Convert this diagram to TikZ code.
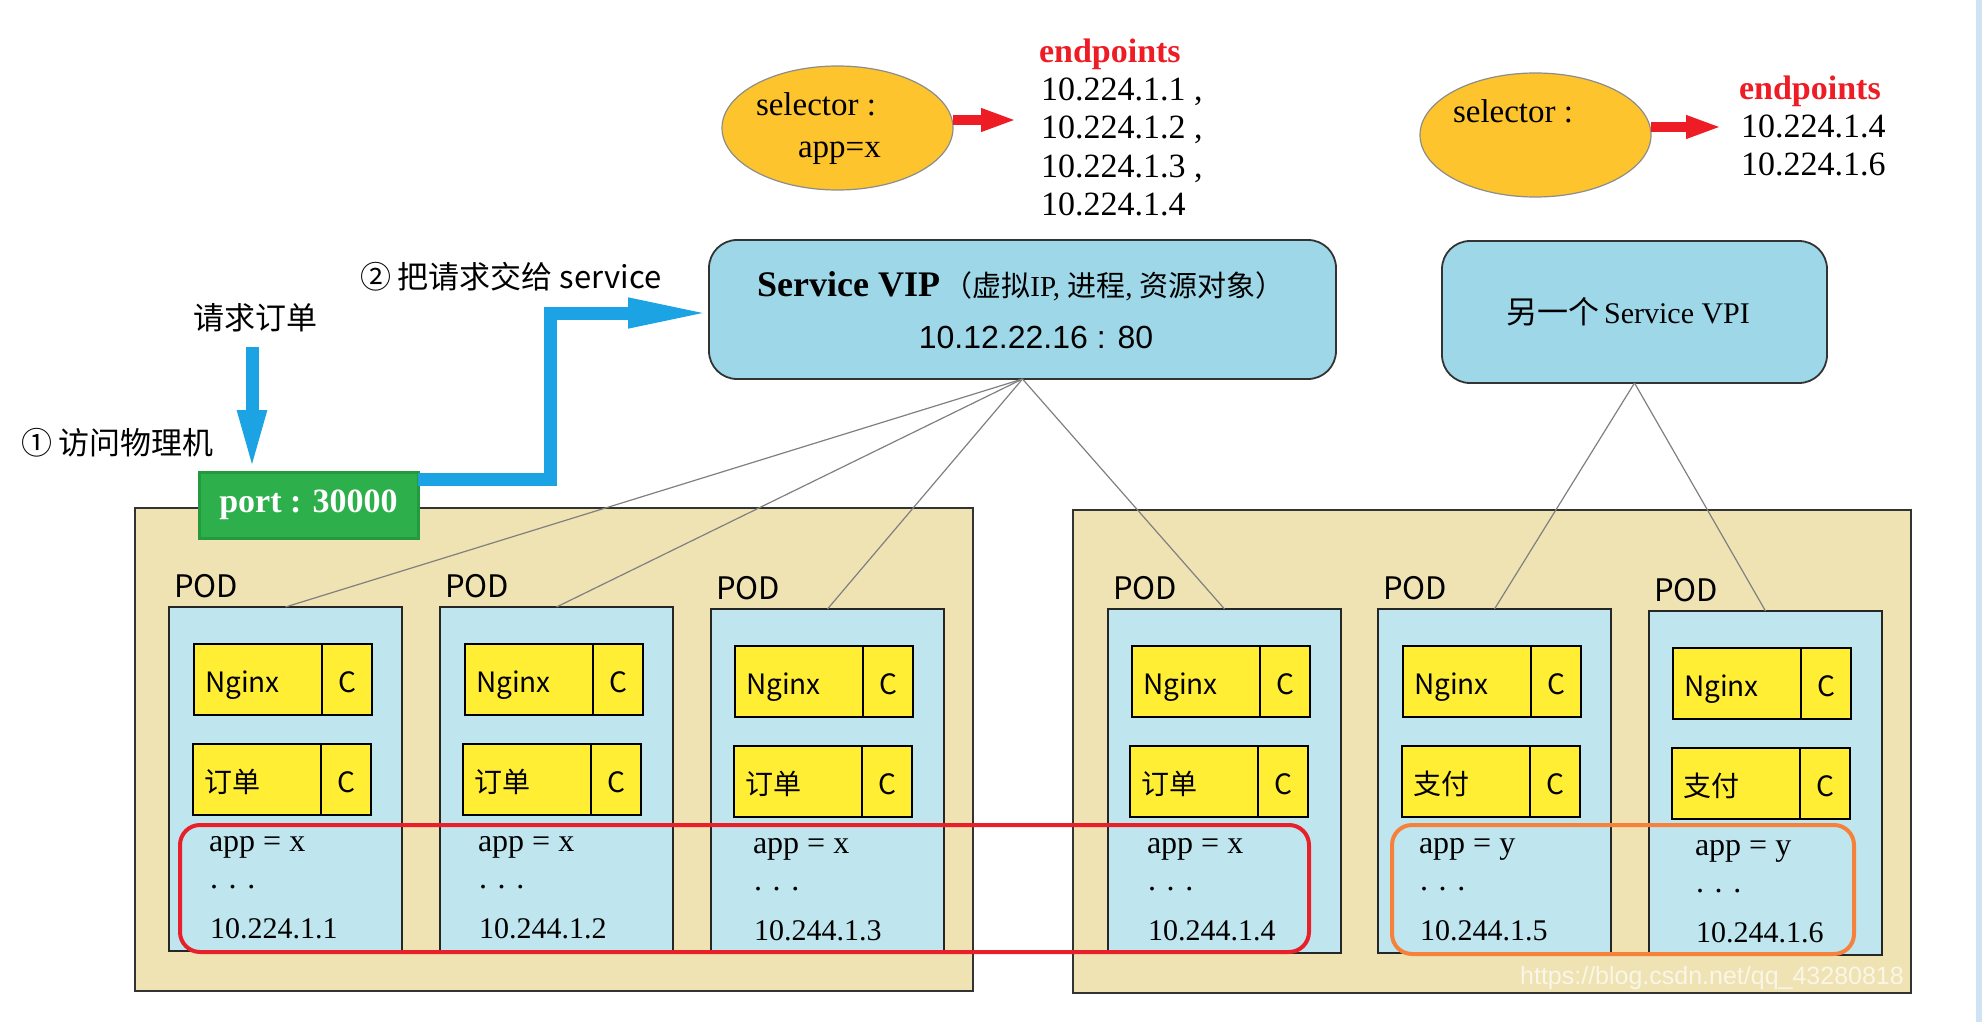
\documentclass[tikz,border=0pt]{standalone}
\usepackage{fontspec}
\setmainfont{Liberation Serif}
\newfontfamily\cjk{Noto Sans CJK SC}
\newfontfamily\arialf{Liberation Sans}
\usetikzlibrary{arrows.meta,shapes.geometric,calc}
\newcommand\myfs[1]{\fontsize{#1pt}{#1pt}\selectfont}
\definecolor{tanbg}{HTML}{EFE2B3}
\definecolor{podblue}{HTML}{BFE6EF}
\definecolor{cyellow}{HTML}{FFEE33}
\definecolor{svcblue}{HTML}{9ED8E8}
\definecolor{ellgold}{HTML}{FDC42E}
\definecolor{portgreen}{HTML}{2DB04C}
\definecolor{portdk}{HTML}{239A3E}
\definecolor{arrblue}{HTML}{1BA3E3}
\definecolor{arrred}{HTML}{EE1C25}
\definecolor{loopred}{HTML}{E8202A}
\definecolor{looporange}{HTML}{F5813A}
\definecolor{linegray}{HTML}{808080}
\definecolor{edgeblue}{HTML}{CFE3F5}
\begin{document}
\begin{tikzpicture}[x=0.5pt,y=-0.5pt,
  txt/.style={inner sep=0pt,outer sep=0pt},
  cjktxt/.style={txt,font=\cjk\myfs{15.5}},
  outerbox/.style={draw=black!80,fill=tanbg,line width=1pt,inner sep=0pt,outer sep=0pt,minimum width=419pt,minimum height=241.5pt},
  podbox/.style={draw=black!85,fill=podblue,line width=1pt,inner sep=0pt,outer sep=0pt,minimum width=116.5pt,minimum height=172pt},
  podlbl/.style={txt,font=\cjk\myfs{15.5}},
  podtxt/.style={txt,font=\myfs{16}},
  iptxt/.style={txt,font=\myfs{15}},
  cname/.style={draw=black,fill=cyellow,line width=0.9pt,minimum height=35.5pt,text width=53pt,text height=1.5em,text depth=0.2em,inner xsep=5.5pt,inner ysep=0pt,outer sep=0pt,align=left,font=\cjk\myfs{14}},
  cpart/.style={draw=black,fill=cyellow,line width=0.9pt,minimum height=35.5pt,minimum width=25pt,text height=1.45em,text depth=0.2em,inner sep=0pt,outer sep=0pt,font=\cjk\myfs{14}},
  svcbox/.style={draw=black!80,fill=svcblue,rounded corners=14pt,line width=0.9pt,inner sep=0pt,outer sep=0pt},
  ell/.style={ellipse,draw=black!45,fill=ellgold,line width=0.6pt,inner sep=0pt,outer sep=0pt,minimum width=115.5pt,minimum height=62pt},
  portbox/.style={draw=portdk,fill=portgreen,line width=1.5pt,minimum width=109.5pt,minimum height=33pt,inner sep=0pt,outer sep=0pt,text=white,font=\bfseries\myfs{17}},
  bluearr/.style={draw=arrblue,line width=6.5pt,line join=miter},
  redarr/.style={draw=arrred,line width=5pt,-{Triangle[length=18pt,width=10.5pt]}},
  thinline/.style={draw=linegray,line width=0.6pt},
  eptxt/.style={txt,font=\myfs{17}},
  ephead/.style={txt,font=\bfseries\myfs{17},text=arrred}
]
\useasboundingbox (0,0) rectangle (1982,1022);
\fill[white] (0,0) rectangle (1982,1022);
\fill[edgeblue] (1976,0) rectangle (1982,1022);

% outer machine boxes
\node[outerbox,anchor=north west] (m1) at (135,508) {};
\node[outerbox,anchor=north west] (m2) at (1073,510) {};

% pods
\foreach \i/\L/\T/\nxo/\sxo/\tx/\lab/\app/\ip in {
 1/169/607/25/24/40/订单/x/10.224.1.1,
 2/440/607/25/23/38/订单/x/10.244.1.2,
 3/711/609/24/23/42/订单/x/10.244.1.3,
 4/1108/609/24/22/39/订单/x/10.244.1.4,
 5/1378/609/25/24/41/支付/y/10.244.1.5,
 6/1649/611/24/23/46/支付/y/10.244.1.6}
{
 \node[podbox,anchor=north west] (pod\i) at (\L,\T) {};
 \node[podlbl,anchor=base west] (podl\i) at (\L+5,\T-10) {POD};
 \node[cname,anchor=north west] (ng\i) at (\L+\nxo,\T+37) {Nginx};
 \node[cpart,anchor=north west] (ngc\i) at (ng\i.north east) {C};
 \node[cname,anchor=north west] (sv\i) at (\L+\sxo,\T+137) {\lab};
 \node[cpart,anchor=north west] (sc\i) at (sv\i.north east) {C};
 \node[podtxt,anchor=base west] (app\i) at (\L+\tx,\T+244) {app = \app};
 \node[podtxt,anchor=base west] (dots\i) at (\L+\tx+1,\T+281) {. . .};
 \node[iptxt,anchor=base west] (ip\i) at (\L+\tx+1,\T+331) {\ip};
}

% label groups
\draw[loopred,line width=2pt,rounded corners=10pt] (180,825) rectangle (1309,952);
\draw[looporange,line width=2pt,rounded corners=10pt] (1392,825) rectangle (1854,954);

% services
\node[svcbox,minimum width=313.5pt,minimum height=69.5pt] (svc) at (1022.5,309.5) {};
\node[txt,anchor=base] (svct1) at (1021,296) {{\bfseries\myfs{18}Service VIP}\,{\myfs{14.5}\cjk （虚拟}{\myfs{14.5}IP, }{\myfs{14.5}\cjk 进程}{\myfs{14.5}, }{\myfs{14.5}\cjk 资源对象）}};
\node[txt,anchor=base,font=\arialf\myfs{16}] (svct2) at (1036,348) {10.12.22.16 : 80};

\node[svcbox,minimum width=192.5pt,minimum height=71pt] (svc2) at (1634.5,312) {};
\node[txt,anchor=base] (svc2t) at (1628,323) {{\cjk\myfs{15.5}另一个} {\myfs{15}Service VPI}};

% connectors service -> pods
\foreach \i in {1,2,3,4} \draw[thinline] (svc.south) -- (pod\i.north);
\foreach \i in {5,6} \draw[thinline] (svc2.south) -- (pod\i.north);

% selectors
\node[ell] (e1) at (837.5,128) {};
\node[txt,anchor=base west,font=\myfs{16.5}] (e1a) at (756,116) {selector :};
\node[txt,anchor=base west,font=\myfs{16.5}] (e1b) at (798,158) {app=x};
\node[ell] (e2) at (1535.5,135) {};
\node[txt,anchor=base west,font=\myfs{16.5}] (e2a) at (1453,123) {selector :};

\coordinate (a1) at (1017,120);
\draw[redarr] (e1.east |- a1) -- (a1);
\coordinate (a2) at (1722,127);
\draw[redarr] (e2.east |- a2) -- (a2);

\node[ephead,anchor=base west] (ep1h) at (1039,63) {endpoints};
\node[eptxt,anchor=base west] (ep11) at (1041,101) {10.224.1.1 ,};
\node[eptxt,anchor=base west] (ep12) at (1041,139) {10.224.1.2 ,};
\node[eptxt,anchor=base west] (ep13) at (1041,177) {10.224.1.3 ,};
\node[eptxt,anchor=base west] (ep14) at (1041,215) {10.224.1.4};

\node[ephead,anchor=base west] (ep2h) at (1739,100) {endpoints};
\node[eptxt,anchor=base west] (ep21) at (1741,138) {10.224.1.4};
\node[eptxt,anchor=base west] (ep22) at (1741,176) {10.224.1.6};

% port and request flow
\node[portbox] (port) at (308.5,505) {port : 30000};
\node[cjktxt] (q1) at (255,318) {请求订单};
\node[cjktxt,anchor=west] (q2) at (21,443) {① 访问物理机};
\node[cjktxt,anchor=west] (q3) at (360,277) {② 把请求交给 service};

\coordinate (b1) at (252,347);
\draw[bluearr,-{Triangle[length=31pt,width=13pt]}] (b1) -- (b1 |- port.north);
\coordinate (k1) at (550,479.5);
\coordinate (k2) at (550,313);
\draw[bluearr,-{Triangle[length=42pt,width=13.5pt]}] (port.east |- k1) -- (k1) -- (k2) -- ([xshift=1.5pt]svc.west |- k2);

% watermark
\node[txt,font=\arialf\myfs{12.5},text=white,opacity=0.7] (wm) at (1712,978) {https://blog.csdn.net/qq\_43280818};
\end{tikzpicture}
\end{document}
